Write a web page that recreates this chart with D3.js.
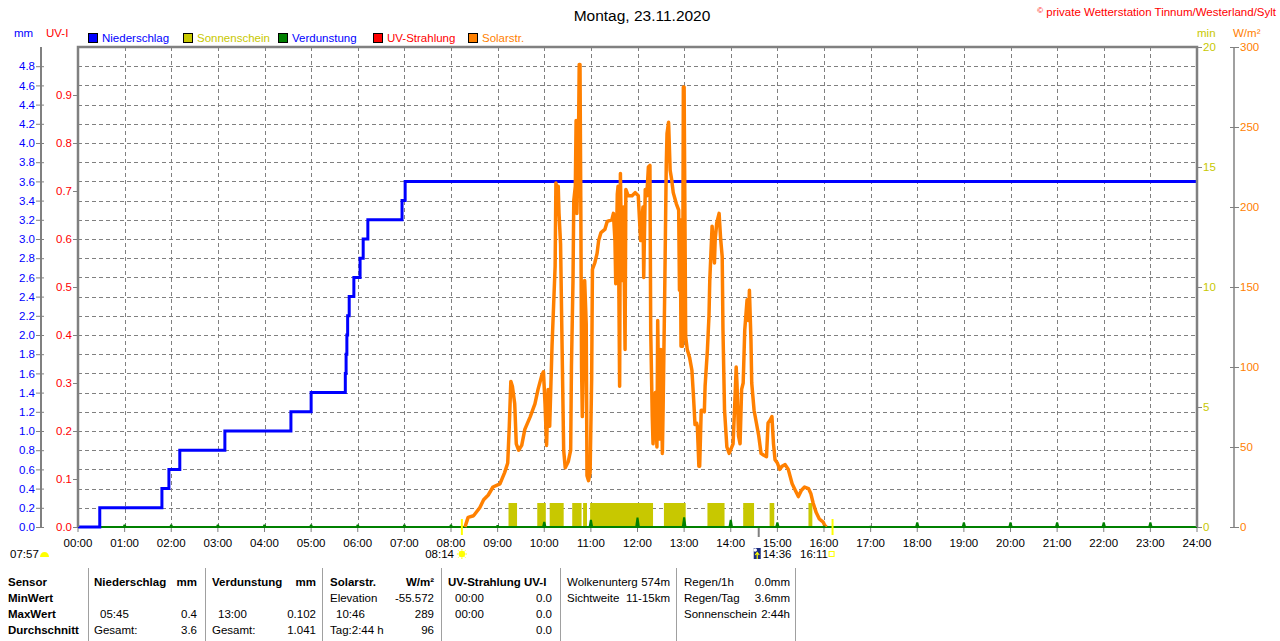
<!DOCTYPE html>
<html><head><meta charset="utf-8">
<script src="https://cdn.jsdelivr.net/npm/d3@7"></script>
<style>
html,body{margin:0;padding:0;background:#fff;}
svg text{font-family:"Liberation Sans",Arial,sans-serif;}
</style></head>
<body><svg id="c" width="1280" height="641"></svg>
<script>
// ---------------- DATA ----------------
const title = "Montag, 23.11.2020";
const copyright = "private Wetterstation Tinnum/Westerland/Sylt";
const legendNames = ["Niederschlag","Sonnenschein","Verdunstung","UV-Strahlung","Solarstr."];
const legendColors = ["#0000ff","#c8c800","#008000","#ff0000","#ff8000"];
const hourLabels = ["00:00","01:00","02:00","03:00","04:00","05:00","06:00","07:00","08:00","09:00","10:00","11:00","12:00","13:00","14:00","15:00","16:00","17:00","18:00","19:00","20:00","21:00","22:00","23:00","24:00"];
const mmTicks = [0,0.2,0.4,0.6,0.8,1.0,1.2,1.4,1.6,1.8,2.0,2.2,2.4,2.6,2.8,3.0,3.2,3.4,3.6,3.8,4.0,4.2,4.4,4.6,4.8];
const uvTicks = [0,0.1,0.2,0.3,0.4,0.5,0.6,0.7,0.8,0.9];
const minTicks = [0,5,10,15,20];
const wTicks = [0,50,100,150,200,250,300];

// Niederschlag (cumulative mm), time in minutes of day
const rainT = [0,28,108,117,131,189,274,300,344,345,346,347,349,355,363,367,373,417,421,1440];
const rainV = [0,0.2,0.4,0.6,0.8,1.0,1.2,1.4,1.6,1.8,2.0,2.2,2.4,2.6,2.8,3.0,3.2,3.4,3.6,3.6];

// Solarstrahlung W/m²
const solarT = [498,502,509,517,522,528,534,543,549,553,555,557,559,562,564,567,571,575,582,588,592,597,599,601,603,605,607,610,612,614,615,617,618,619,621,623,625,627,631,634,635,637,638,640,641,642,644,645,646,647,648,649,651,652,654,655,657,659,661,662,665,668,670,673,678,681,687,689,691,692,694,695,697,698,700,702,704,705,708,713,717,721,724,727,728,730,732,734,736,737,739,740,743,745,746,748,750,752,753,755,757,758,760,762,764,766,770,773,774,775,776,778,779,780,782,784,787,790,792,794,796,797,799,800,802,803,806,807,810,812,813,815,816,819,820,822,825,827,829,830,832,835,838,843,845,847,848,850,852,854,856,858,861,863,864,866,867,870,873,876,879,882,886,888,891,893,895,897,900,903,906,910,914,919,923,927,931,935,940,943,946,950,954,959,961,963];
const solarV = [0,6,7,12,17,20,25,27,34,40,63,91,88,77,52,48,51,61,69,77,86,95,97,77,51,86,63,113,138,163,215,209,213,196,177,111,48,37,41,48,100,154,204,213,254,196,240,289,289,206,100,69,121,154,127,32,29,34,92,161,165,171,179,184,186,191,192,196,179,152,208,213,88,221,154,200,111,211,207,207,209,207,179,200,156,211,207,225,226,123,69,52,84,50,129,55,111,46,75,146,226,246,253,223,217,209,202,198,148,192,113,113,275,275,119,111,106,98,82,64,65,63,38,38,73,73,72,88,111,132,154,177,188,165,180,190,196,180,169,123,73,50,46,52,75,100,90,57,52,86,90,123,142,129,148,117,90,73,65,57,46,45,44,65,67,69,52,42,40,36,38,39,36,27,23,19,23,25,24,21,15,9,5,3,1,0];

// Sonnenschein (minutes) per interval
const sunStart = [554,591,607,636,650,659,754,810,856,890,940];
const sunEnd   = [565,602,625,648,655,740,782,832,870,896,945];
const sunMin   = [1,1,1,1,1,1,1,1,1,1,1];

// Verdunstung (mm) per hour
const evapHour = [1,2,3,4,5,6,7,8,9,10,11,12,13,14,15,16,17,18,19,20,21,22,23];
const evapV = [0.025,0.025,0.025,0.025,0.025,0.025,0.025,0.025,0.02,0.055,0.075,0.1,0.102,0.075,0.05,0.012,0.012,0.05,0.05,0.05,0.05,0.05,0.05];

// UV (all zero)
const uvT = [0,1440];
const uvV = [0,0];

// astronomical markers (minutes)
const dawnLabel = "07:57";
const sunriseT = 494, sunriseLabel = "08:14";
const moonT = 876, moonLabel = "14:36";
const sunsetT = 971, sunsetLabel = "16:11";

// summary table
const rowLabels = ["Sensor","MinWert","MaxWert","Durchschnitt"];
const rainCol = {head:["Niederschlag","mm"], min:["",""], max:["05:45","0.4"], avg:["Gesamt:","3.6"]};
const evapCol = {head:["Verdunstung","mm"], min:["",""], max:["13:00","0.102"], avg:["Gesamt:","1.041"]};
const solarCol = {head:["Solarstr.","W/m²"], min:["Elevation","-55.572"], max:["10:46","289"], avg:["Tag:2:44 h","96"]};
const uvCol = {head:["UV-Strahlung UV-I",""], min:["00:00","0.0"], max:["00:00","0.0"], avg:["","0.0"]};
const infoA = [["Wolkenunterg","574m"],["Sichtweite","11-15km"]];
const infoB = [["Regen/1h","0.0mm"],["Regen/Tag","3.6mm"],["Sonnenschein","2:44h"]];

// ---------------- DRAW ----------------
const svg = d3.select("#c");
const L=78, R=1197, T=47, B=527;
const FONT = 11.5;
const x = d3.scaleLinear().domain([0,1440]).range([L,R]);
const yMM = d3.scaleLinear().domain([0,5]).range([B,T]);
const yUV = d3.scaleLinear().domain([0,1]).range([B,T]);
const yMin = d3.scaleLinear().domain([0,20]).range([B,T]);
const yW = d3.scaleLinear().domain([0,300]).range([B,T]);
const GRAY="#808080";

// title
svg.append("text").attr("x",642).attr("y",21).attr("text-anchor","middle")
  .attr("font-size",15.5).attr("fill","#000").text(title);
const cp = svg.append("text").attr("x",1276).attr("y",16).attr("text-anchor","end")
  .attr("font-size",11.5).attr("fill","#ff0000");
cp.append("tspan").attr("font-size",8).attr("dy",-3).text("©");
cp.append("tspan").attr("dy",3).text(" "+copyright);

// axis headers
svg.append("text").attr("x",14).attr("y",37).attr("font-size",FONT).attr("fill","#0000ff").text("mm");
svg.append("text").attr("x",46).attr("y",37).attr("font-size",FONT).attr("fill","#ff0000").text("UV-I");
svg.append("text").attr("x",1197).attr("y",37).attr("font-size",FONT).attr("fill","#c8c800").text("min");
svg.append("text").attr("x",1233).attr("y",37).attr("font-size",FONT).attr("fill","#ff8000").text("W/m²");

// legend
const legX = [88,183,278,373,468];
legendNames.forEach((n,i)=>{
  svg.append("rect").attr("x",legX[i]+0.5).attr("y",33.5).attr("width",9).attr("height",9)
    .attr("fill",legendColors[i]).attr("stroke","#000").attr("stroke-width",1);
  svg.append("text").attr("x",legX[i]+14).attr("y",42).attr("font-size",FONT)
    .attr("fill", i===2 ? "#0000ff" : legendColors[i]).text(n);
});

// grid
const grid = svg.append("g").attr("stroke",GRAY).attr("stroke-width",1).attr("stroke-dasharray","4,3");
mmTicks.filter(v=>v>0).forEach(v=>{
  grid.append("line").attr("x1",L).attr("x2",R).attr("y1",Math.round(yMM(v))+0.5).attr("y2",Math.round(yMM(v))+0.5);
});
d3.range(1,24).forEach(h=>{
  grid.append("line").attr("x1",Math.round(x(h*60))+0.5).attr("x2",Math.round(x(h*60))+0.5).attr("y1",T).attr("y2",B);
});

// sunshine bars
svg.append("g").selectAll("rect").data(sunStart.map((s,i)=>({s,e:sunEnd[i],v:sunMin[i]}))).join("rect")
  .attr("x",d=>x(d.s)).attr("width",d=>x(d.e)-x(d.s))
  .attr("y",d=>yMin(d.v)).attr("height",d=>B-yMin(d.v)).attr("fill","#c8c800");

// UV line (zero)
svg.append("path").datum(uvT.map((t,i)=>[t,uvV[i]]))
  .attr("d",d3.line().x(d=>x(d[0])).y(d=>yUV(d[1])))
  .attr("fill","none").attr("stroke","#ff0000").attr("stroke-width",2);

// evaporation baseline
svg.append("line").attr("x1",L).attr("x2",R).attr("y1",B).attr("y2",B).attr("stroke","#008000").attr("stroke-width",2);

// precipitation
svg.append("path").datum(rainT.map((t,i)=>[t,rainV[i]]))
  .attr("d",d3.line().curve(d3.curveStepAfter).x(d=>x(d[0])).y(d=>yMM(d[1])))
  .attr("fill","none").attr("stroke","#0000ff").attr("stroke-width",3);

// solar
svg.append("path").datum(solarT.map((t,i)=>[t,solarV[i]]))
  .attr("d",d3.line().x(d=>x(d[0])).y(d=>yW(d[1])))
  .attr("fill","none").attr("stroke","#ff8000").attr("stroke-width",3.5).attr("stroke-linejoin","round");

// evaporation spikes
svg.append("g").selectAll("path").data(evapHour.map((h,i)=>({h,v:evapV[i]}))).join("path")
  .attr("d",d=>{const cx=x(d.h*60), y0=yMM(0)+1, y1=yMM(d.v);
    return `M${cx-2.5},${y0}L${cx-1},${y1}L${cx+1},${y1}L${cx+2.5},${y0}Z`;})
  .attr("fill","#008000");

// plot border
svg.append("path").attr("d",`M${L},${B}V${T}H${R}V${B}`).attr("fill","none").attr("stroke",GRAY).attr("stroke-width",2.5);

// x axis ticks & labels
const xa = svg.append("g");
d3.range(0,25).forEach(h=>{
  xa.append("line").attr("x1",x(h*60)).attr("x2",x(h*60)).attr("y1",B+1).attr("y2",B+5).attr("stroke",GRAY).attr("stroke-width",1);
  xa.append("text").attr("x",x(h*60)).attr("y",547).attr("text-anchor","middle").attr("font-size",FONT).attr("fill","#000").text(hourLabels[h]);
});

// left mm axis
const fmt1 = d3.format(".1f");
const gmm = svg.append("g").attr("transform","translate(41,0)")
  .call(d3.axisLeft(yMM).tickValues(mmTicks).tickSize(5).tickSizeOuter(0).tickPadding(1).tickFormat(fmt1));
gmm.select(".domain").attr("stroke",GRAY).attr("stroke-width",2).attr("d",`M0,${T}V${B}`);
gmm.selectAll(".tick line").attr("stroke",GRAY).attr("x2",3).attr("x1",-5);
gmm.selectAll(".tick text").attr("fill","#0000ff").attr("font-size",FONT).attr("font-family","Liberation Sans, Arial, sans-serif");

// UV axis
const guv = svg.append("g").attr("transform",`translate(${L},0)`)
  .call(d3.axisLeft(yUV).tickValues(uvTicks).tickSize(5).tickSizeOuter(0).tickPadding(1).tickFormat(fmt1));
guv.select(".domain").remove();
guv.selectAll(".tick line").attr("stroke",GRAY);
guv.selectAll(".tick text").attr("fill","#ff0000").attr("font-size",FONT).attr("font-family","Liberation Sans, Arial, sans-serif");

// min axis
const gmin = svg.append("g").attr("transform",`translate(${R},0)`)
  .call(d3.axisRight(yMin).tickValues(minTicks).tickSize(5).tickSizeOuter(0).tickPadding(1));
gmin.select(".domain").remove();
gmin.selectAll(".tick line").attr("stroke",GRAY);
gmin.selectAll(".tick text").attr("fill","#c8c800").attr("font-size",FONT).attr("font-family","Liberation Sans, Arial, sans-serif");

// W/m² axis
const gw = svg.append("g").attr("transform","translate(1234,0)")
  .call(d3.axisRight(yW).tickValues(wTicks).tickSize(5).tickSizeOuter(0).tickPadding(1));
gw.select(".domain").attr("stroke",GRAY).attr("stroke-width",1.5).attr("d",`M0,${T+1}V${B}`);
gw.selectAll(".tick line").attr("stroke",GRAY).attr("x1",-4);
gw.selectAll(".tick text").attr("fill","#ff8000").attr("font-size",FONT).attr("font-family","Liberation Sans, Arial, sans-serif");

// astronomical markers
svg.append("line").attr("x1",x(sunriseT)).attr("x2",x(sunriseT)).attr("y1",519).attr("y2",535).attr("stroke","#ffff00").attr("stroke-width",2);
svg.append("line").attr("x1",x(sunsetT)).attr("x2",x(sunsetT)).attr("y1",519).attr("y2",535).attr("stroke","#ffff00").attr("stroke-width",2);
svg.append("line").attr("x1",x(moonT)).attr("x2",x(moonT)).attr("y1",528).attr("y2",537).attr("stroke",GRAY).attr("stroke-width",2);

svg.append("text").attr("x",10).attr("y",558).attr("font-size",FONT).text(dawnLabel);
svg.append("path").attr("d","M40,557 A4.5,5 0 0 1 49,557 Z").attr("fill","#ffff00");
svg.append("text").attr("x",454).attr("y",558).attr("text-anchor","end").attr("font-size",FONT).text(sunriseLabel);
const sx = x(sunriseT), sy=554;
svg.append("circle").attr("cx",sx).attr("cy",sy).attr("r",3.2).attr("fill","#ffff00");
d3.range(8).forEach(k=>{const a=k*Math.PI/4;
  svg.append("line").attr("x1",sx+Math.cos(a)*3.5).attr("y1",sy+Math.sin(a)*3.5).attr("x2",sx+Math.cos(a)*5).attr("y2",sy+Math.sin(a)*5).attr("stroke","#ffff00").attr("stroke-width",1);});
const mx = x(moonT);
svg.append("rect").attr("x",mx-5).attr("y",548).attr("width",7).attr("height",11).attr("fill","#1a2a80");
svg.append("circle").attr("cx",mx-3.5).attr("cy",550).attr("r",1.8).attr("fill","#fff");
svg.append("path").attr("d",`M${mx-1.5},559V553M${mx-3.5},555L${mx-1.5},552.5L${mx+0.5},555`).attr("stroke","#ffff00").attr("stroke-width",1.2).attr("fill","none");
svg.append("text").attr("x",mx+4).attr("y",558).attr("font-size",FONT).text(moonLabel);
svg.append("text").attr("x",800).attr("y",558).attr("font-size",FONT).text(sunsetLabel);
svg.append("rect").attr("x",x(sunsetT)-3.5).attr("y",551.5).attr("width",5).attr("height",5).attr("fill","none").attr("stroke","#ffff00").attr("stroke-width",1);

// table
const tb = svg.append("g").attr("font-size",FONT).attr("fill","#000");
const rowY = [586,602,618,634];
[88,205,322,441,560,676,795].forEach(sx=>{
  tb.append("line").attr("x1",sx+0.5).attr("x2",sx+0.5).attr("y1",568).attr("y2",641).attr("stroke","#a0a0a0").attr("stroke-width",1);
});
rowLabels.forEach((t,i)=>tb.append("text").attr("x",8).attr("y",rowY[i]).attr("font-weight","bold").text(t));
function col(c, xl, xv, xr){
  const rows=[c.head,c.min,c.max,c.avg];
  rows.forEach((r,i)=>{
    tb.append("text").attr("x", i===2 ? xv : xl).attr("y",rowY[i]).attr("font-weight",i===0?"bold":"normal").text(r[0]);
    tb.append("text").attr("x",xr).attr("y",rowY[i]).attr("text-anchor","end").attr("font-weight",i===0?"bold":"normal").text(r[1]);
  });
}
col(rainCol,94,100,197);
col(evapCol,212,218,316);
col(solarCol,330,336,434);
[uvCol.head,uvCol.min,uvCol.max,uvCol.avg].forEach((r,i)=>{
  tb.append("text").attr("x",i===0?448:455).attr("y",rowY[i]).attr("font-weight",i===0?"bold":"normal").text(r[0]);
  tb.append("text").attr("x",552).attr("y",rowY[i]).attr("text-anchor","end").text(r[1]);
});
infoA.forEach((r,i)=>{
  tb.append("text").attr("x",567).attr("y",rowY[i]).text(r[0]);
  tb.append("text").attr("x",670).attr("y",rowY[i]).attr("text-anchor","end").text(r[1]);
});
infoB.forEach((r,i)=>{
  tb.append("text").attr("x",684).attr("y",rowY[i]).text(r[0]);
  tb.append("text").attr("x",790).attr("y",rowY[i]).attr("text-anchor","end").text(r[1]);
});
</script></body></html>
